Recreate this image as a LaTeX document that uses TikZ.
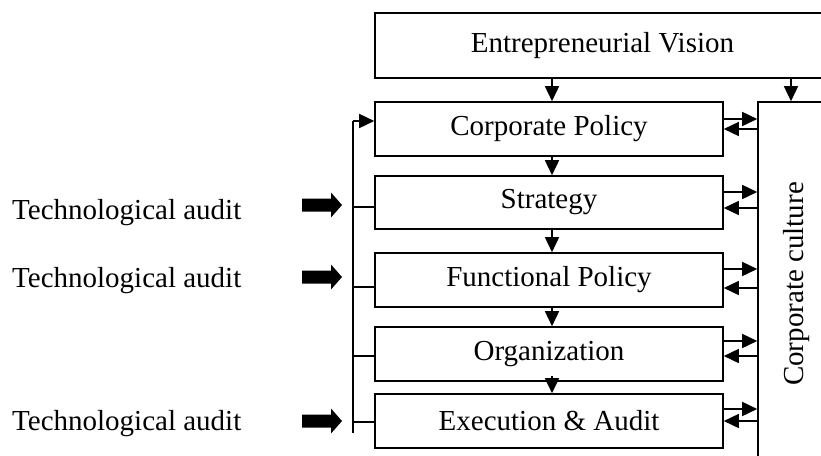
\documentclass[tikz,border=0pt]{standalone}
\usepackage{fontspec}
\setmainfont{Liberation Serif}
\usetikzlibrary{arrows.meta}
\begin{document}
\begin{tikzpicture}[x=1pt,y=-1pt,
  lw/.style={line width=1.6pt},
  stepbox/.style={draw,lw,inner sep=0pt,minimum width=348pt,minimum height=54pt,font=\fontsize{29}{34}\selectfont},
  arr/.style={lw,-{Triangle[length=15pt,width=14pt]}},
  txt/.style={inner sep=0pt,font=\fontsize{29}{34}\selectfont},
  blockarrow/.style={fill=black}
]
\useasboundingbox (0,0) rectangle (821,455);
% boxes
\node[stepbox,minimum width=455pt,minimum height=65pt] (ev) at (602.5,45.5) {Entrepreneurial Vision};
\node[stepbox] (cp) at (549,129) {Corporate Policy};
\node[stepbox,minimum height=53pt] (st) at (549,202.5) {Strategy};
\node[stepbox] (fp) at (549,280) {Functional Policy};
\node[stepbox] (or) at (549,354) {Organization};
\node[stepbox] (ex) at (549,421) {Execution \& Audit};
\node[draw,lw,inner sep=0pt,minimum width=82pt,minimum height=368pt] (cc) at (799,286) {};
\node[txt,rotate=90] (cctext) at (797,284) {Corporate culture};
% helper coordinates
\coordinate (mx) at (552,0);
\coordinate (cx) at (791,0);
\coordinate (lx) at (353,0);
% vertical arrows
\draw[arr] (ev.south -| mx) -- (cp.north -| mx);
\draw[arr] (ev.south -| cx) -- (cc.north -| cx);
\draw[arr] (cp.south -| mx) -- (st.north -| mx);
\draw[arr] (st.south -| mx) -- (fp.north -| mx);
\draw[arr] (fp.south -| mx) -- (or.north -| mx);
\draw[arr] ([yshift=6pt]or.south -| mx) -- (ex.north -| mx);
% right side arrows
\coordinate (o1) at (0,119); \coordinate (i1) at (0,129);
\coordinate (o2) at (0,192); \coordinate (i2) at (0,208);
\coordinate (o3) at (0,269); \coordinate (i3) at (0,288);
\coordinate (o4) at (0,341); \coordinate (i4) at (0,356);
\coordinate (o5) at (0,409); \coordinate (i5) at (0,421);
\draw[arr] (cp.east |- o1) -- (cc.west |- o1);
\draw[arr] (cc.west |- i1) -- (cp.east |- i1);
\draw[arr] (st.east |- o2) -- (cc.west |- o2);
\draw[arr] (cc.west |- i2) -- (st.east |- i2);
\draw[arr] (fp.east |- o3) -- (cc.west |- o3);
\draw[arr] (cc.west |- i3) -- (fp.east |- i3);
\draw[arr] (or.east |- o4) -- (cc.west |- o4);
\draw[arr] (cc.west |- i4) -- (or.east |- i4);
\draw[arr] (ex.east |- o5) -- (cc.west |- o5);
\draw[arr] (cc.west |- i5) -- (ex.east |- i5);
% left feedback bus
\coordinate (top) at (353,121);
\coordinate (bot) at (353,433);
\draw[lw] (bot) -- (top);
\draw[arr] (top) -- (cp.west |- top);
\draw[lw] (lx |- 0,207) -- (st.west |- 0,207);
\draw[lw] (lx |- 0,287) -- (fp.west |- 0,287);
\draw[lw] (lx |- 0,356) -- (or.west |- 0,356);
\draw[lw] (lx |- 0,422) -- (ex.west |- 0,422);
% block arrows
\foreach \y in {205,277,421}{
  \fill (302,\y-6.5) -- (331,\y-6.5) -- (331,\y-12.5) -- (342,\y) -- (331,\y+12.5) -- (331,\y+6.5) -- (302,\y+6.5) -- cycle;
}
% labels
\node[txt,anchor=base west] (t1) at (12,219) {Technological audit};
\node[txt,anchor=base west] (t2) at (12,287) {Technological audit};
\node[txt,anchor=base west] (t3) at (12,430) {Technological audit};
\end{tikzpicture}
\end{document}
